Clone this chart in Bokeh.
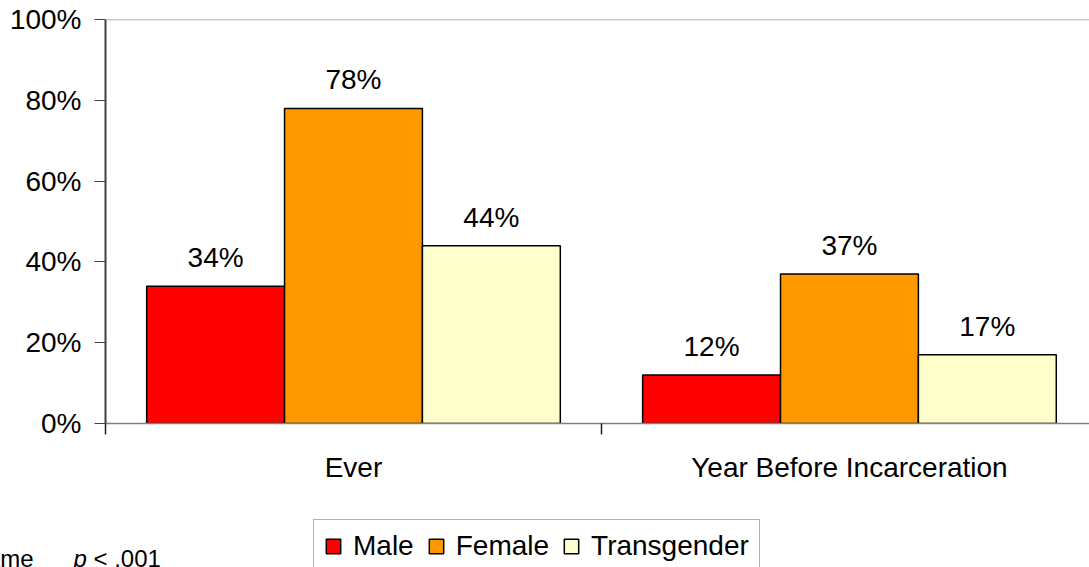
from bokeh.plotting import figure
from bokeh.layouts import column
from bokeh.models import (ColumnDataSource, Range1d, FixedTicker, PrintfTickFormatter,
                          CustomJSTickFormatter, LabelSet, Label, Legend, LegendItem, Span)
from bokeh.core.properties import value
from bokeh.transform import dodge
from bokeh.embed import file_html
from bokeh.resources import INLINE

# ---- data ----
groups = ["Ever", "Year Before Incarceration"]
series = ["Male", "Female", "Transgender"]
male = [34, 12]
female = [78, 37]
transgender = [44, 17]
colors = ["#FF0000", "#FF9900", "#FFFFCC"]
y_ticks = [0, 20, 40, 60, 80, 100]
note_parts = ["Lifetime", "p", "< .001"]

FONT = "Liberation Sans"

centers = [i + 0.5 for i in range(len(groups))]
source = ColumnDataSource(dict(
    x=centers,
    Male=male,
    Female=female,
    Transgender=transgender,
    Male_txt=[f"{v}%" for v in male],
    Female_txt=[f"{v}%" for v in female],
    Transgender_txt=[f"{v}%" for v in transgender],
))

# ---- main chart ----
p = figure(width=1089, height=500, output_backend="svg", toolbar_location=None,
           x_range=Range1d(0, 1.984), y_range=Range1d(0, 100),
           min_border_left=105, min_border_right=0, min_border_top=19, min_border_bottom=77)
p.frame_align = False
p.outline_line_color = None
p.grid.visible = False
p.background_fill_color = "white"
p.border_fill_color = "white"

bar_w = 0.278
offsets = [-bar_w, 0.0, bar_w]
for name, col, off in zip(series, colors, offsets):
    p.vbar(x=dodge("x", off, range=p.x_range), top=name, width=bar_w, source=source,
           fill_color=col, line_color="black", line_width=1.5)
    labels = LabelSet(x=dodge("x", off, range=p.x_range), y=name, text=name + "_txt",
                      source=source, text_align="center", text_baseline="alphabetic",
                      y_offset=19, text_font=value(FONT), text_font_size=value("28px"),
                      text_color="black")
    p.add_layout(labels)

# top border of plot area
p.add_layout(Span(location=100, dimension="width", line_color="#999999", line_width=1.5))

# y axis
ya = p.yaxis[0]
ya.ticker = FixedTicker(ticks=y_ticks)
ya.formatter = PrintfTickFormatter(format="%d%%")
ya.axis_line_color = "#404040"
ya.axis_line_width = 2
ya.major_tick_line_color = "#404040"
ya.major_tick_in = 0
ya.major_tick_out = 11
ya.minor_tick_line_color = None
ya.major_label_standoff = 13
ya.major_label_text_font = FONT
ya.major_label_text_font_size = "28px"
ya.major_label_text_color = "black"

# x axis
xa = p.xaxis[0]
xa.ticker = FixedTicker(ticks=centers, minor_ticks=list(range(len(groups) + 1)))
xa.formatter = CustomJSTickFormatter(args=dict(names=groups),
                                     code="return names[Math.floor(tick)];")
xa.axis_line_color = "#808080"
xa.axis_line_width = 1.5
xa.major_tick_line_color = None
xa.major_tick_in = 0
xa.major_tick_out = 0
xa.minor_tick_line_color = "#202020"
xa.minor_tick_line_width = 1.5
xa.minor_tick_in = 0
xa.minor_tick_out = 11
xa.major_label_standoff = 17
xa.major_label_text_font = FONT
xa.major_label_text_font_size = "28px"
xa.major_label_text_color = "black"

# ---- bottom strip: legend + note ----
b = figure(width=1089, height=67, output_backend="svg", toolbar_location=None,
           x_range=Range1d(0, 1089), y_range=Range1d(0, 67),
           x_axis_location=None, y_axis_location=None,
           min_border_left=0, min_border_right=0, min_border_top=0, min_border_bottom=0)
b.frame_align = False
b.outline_line_color = None
b.grid.visible = False
b.background_fill_color = "white"
b.border_fill_color = "white"

# legend swatch proxies (placed outside the visible range)
proxy = ColumnDataSource(dict(x=[-100], top=[0]))
items = []
for name, col in zip(series, colors):
    r = b.vbar(x="x", top="top", width=1, source=proxy,
               fill_color=col, line_color="black", line_width=1.5)
    items.append(LegendItem(label=name, renderers=[r]))

legend = Legend(items=items, orientation="horizontal", location=(313, -6),
                glyph_width=18, glyph_height=18, label_standoff=11, spacing=13,
                padding=10, margin=0,
                label_text_font=FONT, label_text_font_size="28px", label_text_color="black",
                border_line_color="#666666", border_line_width=1.5,
                background_fill_color="white", background_fill_alpha=1.0)
b.add_layout(legend, "center")

# note (its first word is cut off at the left edge in the original)
b.add_layout(Label(x=-51, y=9, x_units="screen", y_units="screen", text=note_parts[0],
                   text_font=FONT, text_font_size="24px", text_baseline="alphabetic",
                   text_color="black"))
b.add_layout(Label(x=73, y=9, x_units="screen", y_units="screen", text=note_parts[1],
                   text_font=FONT, text_font_size="24px", text_font_style="italic",
                   text_baseline="alphabetic", text_color="black"))
b.add_layout(Label(x=93, y=9, x_units="screen", y_units="screen", text=note_parts[2],
                   text_font=FONT, text_font_size="24px", text_baseline="alphabetic",
                   text_color="black"))

layout = column(p, b, spacing=0)
open("out.html", "w").write(file_html(layout, INLINE))
